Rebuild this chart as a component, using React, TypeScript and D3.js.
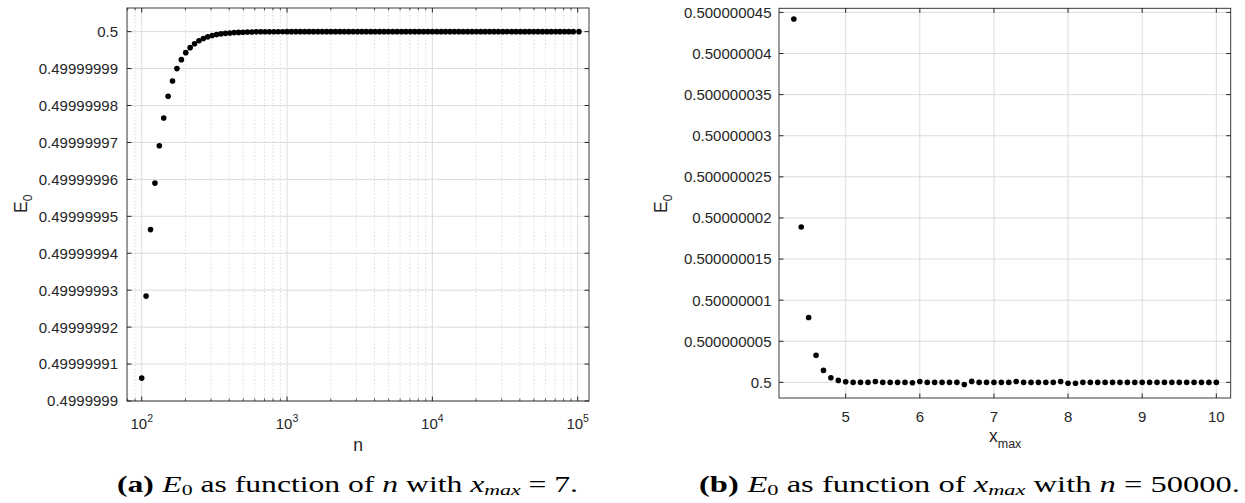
import React from "react";
import * as d3 from "d3";

// (a) E0 against n, x_max = 7
const nValues = [
  100, 107.2, 115.0, 123.3, 132.2, 141.7, 152.0, 163.0, 174.8, 187.4,
  200.9, 215.4, 231.0, 247.7, 265.6, 284.8, 305.4, 327.5, 351.1, 376.5,
  403.7, 432.9, 464.2, 497.7, 533.7, 572.3, 613.6, 658.0, 705.5, 756.5,
  811.1, 869.7, 932.6, 1000, 1072, 1150, 1233, 1322, 1417, 1520,
  1630, 1748, 1874, 2009, 2154, 2310, 2477, 2656, 2848, 3054,
  3275, 3511, 3765, 4037, 4329, 4642, 4977, 5337, 5722, 6136,
  6579, 7055, 7565, 8111, 8697, 9326, 10000, 10723, 11498, 12328,
  13219, 14175, 15199, 16298, 17475, 18738, 20092, 21544, 23101, 24771,
  26561, 28480, 30539, 32745, 35112, 37649, 40370, 43288, 46416, 49770,
  53367, 57224, 61359, 65793, 70548, 75646, 81113, 86975, 93260, 102000,
];
const e0VsN = [
  0.4999999062, 0.4999999284, 0.4999999464, 0.499999959, 0.4999999691,
  0.4999999766, 0.4999999825, 0.49999998665, 0.49999999, 0.49999999242,
  0.49999999431, 0.49999999567, 0.49999999673, 0.49999999753, 0.49999999814,
  0.49999999859, 0.49999999894, 0.4999999992, 0.4999999994, 0.49999999954,
  0.49999999965, 0.49999999974, 0.4999999998, 0.49999999985, 0.49999999989,
  0.49999999992, 0.49999999994, 0.49999999995, 0.49999999997, 0.49999999998,
  0.49999999998, 0.49999999999, 0.49999999999, 0.5, 0.5, 0.5, 0.5, 0.5, 0.5, 0.5,
  0.5, 0.5, 0.5, 0.5, 0.5, 0.5, 0.5, 0.5, 0.5, 0.5,
  0.5, 0.5, 0.5, 0.5, 0.5, 0.5, 0.5, 0.5, 0.5, 0.5,
  0.5, 0.5, 0.5, 0.5, 0.5, 0.5, 0.5, 0.5, 0.5, 0.5,
  0.5, 0.5, 0.5, 0.5, 0.5, 0.5, 0.5, 0.5, 0.5, 0.5,
  0.5, 0.5, 0.5, 0.5, 0.5, 0.5, 0.5, 0.5, 0.5, 0.5,
  0.5, 0.5, 0.5, 0.5, 0.5, 0.5, 0.5, 0.5, 0.5, 0.5,
];
const leftYTicks = [
  0.4999999, 0.49999991, 0.49999992, 0.49999993, 0.49999994, 0.49999995,
  0.49999996, 0.49999997, 0.49999998, 0.49999999, 0.5,
];
const leftYTickLabels = [
  "0.4999999", "0.49999991", "0.49999992", "0.49999993", "0.49999994", "0.49999995",
  "0.49999996", "0.49999997", "0.49999998", "0.49999999", "0.5",
];
const leftXTicks = [100, 1000, 10000, 100000];
const leftXExponents = ["2", "3", "4", "5"];

// (b) E0 against x_max, n = 50000
const xmaxValues = [
  4.3, 4.4, 4.5, 4.6, 4.7, 4.8, 4.9, 5.0, 5.1, 5.2, 5.3, 5.4, 5.5, 5.6, 5.7, 5.8, 5.9,
  6.0, 6.1, 6.2, 6.3, 6.4, 6.5, 6.6, 6.7, 6.8, 6.9, 7.0, 7.1, 7.2, 7.3, 7.4, 7.5, 7.6,
  7.7, 7.8, 7.9, 8.0, 8.1, 8.2, 8.3, 8.4, 8.5, 8.6, 8.7, 8.8, 8.9, 9.0, 9.1, 9.2, 9.3,
  9.4, 9.5, 9.6, 9.7, 9.8, 9.9, 10.0,
];
const e0VsXmax = [
  0.5000000442, 0.5000000189, 0.5000000079, 0.5000000033, 0.50000000146,
  0.50000000056, 0.50000000024, 0.50000000007, 0.5, 0.5, 0.5, 0.5000000001, 0.5,
  0.5, 0.5, 0.5, 0.49999999995, 0.5000000001, 0.5, 0.5, 0.5, 0.5, 0.5,
  0.49999999975, 0.50000000012, 0.5, 0.5, 0.5, 0.5, 0.5, 0.5000000001, 0.5, 0.5,
  0.5, 0.5, 0.5, 0.5000000001, 0.4999999999, 0.4999999999, 0.5, 0.5, 0.5, 0.5,
  0.5, 0.5, 0.5, 0.5, 0.5, 0.5, 0.5, 0.5, 0.5, 0.5, 0.5, 0.5, 0.5, 0.5, 0.5,
];
const rightYTicks = [
  0.5, 0.500000005, 0.50000001, 0.500000015, 0.50000002, 0.500000025,
  0.50000003, 0.500000035, 0.50000004, 0.500000045,
];
const rightYTickLabels = [
  "0.5", "0.500000005", "0.50000001", "0.500000015", "0.50000002", "0.500000025",
  "0.50000003", "0.500000035", "0.50000004", "0.500000045",
];
const rightXTicks = [5, 6, 7, 8, 9, 10];

const AXIS = "#262626";
const GRID = "#dcdcdc";
const FONT = "'Liberation Sans', Arial, sans-serif";

export default function App() {
  const W = 1245;
  const H = 503;
  const L = { x0: 127, x1: 589, y0: 8, y1: 401 };
  const R = { x0: 779, x1: 1230.7, y0: 8.3, y1: 398 };

  const xL = d3.scaleLog().domain([79.2, 119640]).range([L.x0, L.x1]);
  const yL = d3.scaleLinear().domain([0.4999999, 0.5000000064]).range([L.y1, L.y0]);
  const xR = d3.scaleLinear().domain([4.1, 10.194]).range([R.x0, R.x1]);
  const yR = d3.scaleLinear().domain([0.4999999981, 0.5000000455]).range([R.y1, R.y0]);

  const minorL = xL.ticks().filter((t) => !leftXTicks.includes(t));

  return (
    <svg
      width={W}
      height={H}
      style={{ position: "absolute", left: 0, top: 0, background: "#fff" }}
      fontFamily={FONT}
    >
      {/* ---------- left panel ---------- */}
      <g>
        {minorL.map((t) => (
          <line key={"mg" + t} x1={xL(t)} x2={xL(t)} y1={L.y0} y2={L.y1}
            stroke={GRID} strokeDasharray="1.5,2" />
        ))}
        {leftXTicks.map((t) => (
          <line key={"xg" + t} x1={xL(t)} x2={xL(t)} y1={L.y0} y2={L.y1} stroke={GRID} />
        ))}
        {leftYTicks.map((t) => (
          <line key={"yg" + t} x1={L.x0} x2={L.x1} y1={yL(t)} y2={yL(t)} stroke={GRID} />
        ))}
        <rect x={L.x0} y={L.y0} width={L.x1 - L.x0} height={L.y1 - L.y0}
          fill="none" stroke={AXIS} strokeWidth={0.9} />
        {minorL.map((t) => (
          <g key={"mt" + t} stroke={AXIS} strokeWidth={0.8}>
            <line x1={xL(t)} x2={xL(t)} y1={L.y1} y2={L.y1 - 2.5} />
            <line x1={xL(t)} x2={xL(t)} y1={L.y0} y2={L.y0 + 2.5} />
          </g>
        ))}
        {leftXTicks.map((t, i) => (
          <g key={"xt" + t}>
            <line x1={xL(t)} x2={xL(t)} y1={L.y1} y2={L.y1 - 4.5} stroke={AXIS} />
            <line x1={xL(t)} x2={xL(t)} y1={L.y0} y2={L.y0 + 4.5} stroke={AXIS} />
            <text x={xL(t)} y={428.5} textAnchor="middle" fontSize={15} fill={AXIS}>
              10<tspan dy={-7} fontSize={10.5}>{leftXExponents[i]}</tspan>
            </text>
          </g>
        ))}
        {leftYTicks.map((t, i) => (
          <g key={"yt" + t}>
            <line x1={L.x0} x2={L.x0 + 4.5} y1={yL(t)} y2={yL(t)} stroke={AXIS} />
            <line x1={L.x1} x2={L.x1 - 4.5} y1={yL(t)} y2={yL(t)} stroke={AXIS} />
            <text x={L.x0 - 9} y={yL(t)} dy="0.36em" textAnchor="end" fontSize={15} fill={AXIS}>
              {leftYTickLabels[i]}
            </text>
          </g>
        ))}
        {nValues.map((n, i) => (
          <circle key={"p" + i} cx={xL(n)} cy={yL(e0VsN[i])} r={2.8} fill="#000" />
        ))}
        <text x={358} y={451} textAnchor="middle" fontSize={17.5} fill={AXIS}>n</text>
        <text transform="translate(27,213) rotate(-90)" fontSize={17.5} fill={AXIS}>
          E<tspan dy={5} fontSize={12}>0</tspan>
        </text>
      </g>

      {/* ---------- right panel ---------- */}
      <g>
        {rightXTicks.map((t) => (
          <line key={"xg" + t} x1={xR(t)} x2={xR(t)} y1={R.y0} y2={R.y1} stroke={GRID} />
        ))}
        {rightYTicks.map((t) => (
          <line key={"yg" + t} x1={R.x0} x2={R.x1} y1={yR(t)} y2={yR(t)} stroke={GRID} />
        ))}
        <rect x={R.x0} y={R.y0} width={R.x1 - R.x0} height={R.y1 - R.y0}
          fill="none" stroke={AXIS} strokeWidth={0.9} />
        {rightXTicks.map((t) => (
          <g key={"xt" + t}>
            <line x1={xR(t)} x2={xR(t)} y1={R.y1} y2={R.y1 - 4.5} stroke={AXIS} />
            <line x1={xR(t)} x2={xR(t)} y1={R.y0} y2={R.y0 + 4.5} stroke={AXIS} />
            <text x={xR(t)} y={421.5} textAnchor="middle" fontSize={15} fill={AXIS}>{t}</text>
          </g>
        ))}
        {rightYTicks.map((t, i) => (
          <g key={"yt" + t}>
            <line x1={R.x0} x2={R.x0 + 4.5} y1={yR(t)} y2={yR(t)} stroke={AXIS} />
            <line x1={R.x1} x2={R.x1 - 4.5} y1={yR(t)} y2={yR(t)} stroke={AXIS} />
            <text x={R.x0 - 7.5} y={yR(t)} dy="0.36em" textAnchor="end" fontSize={15} fill={AXIS}>
              {rightYTickLabels[i]}
            </text>
          </g>
        ))}
        {xmaxValues.map((x, i) => (
          <circle key={"q" + i} cx={xR(x)} cy={yR(e0VsXmax[i])} r={2.8} fill="#000" />
        ))}
        <text x={989} y={442} fontSize={17.5} fill={AXIS}>
          x<tspan dy={6} fontSize={12.5}>max</tspan>
        </text>
        <text transform="translate(667,213) rotate(-90)" fontSize={17.5} fill={AXIS}>
          E<tspan dy={5} fontSize={12}>0</tspan>
        </text>
      </g>

      {/* ---------- captions ---------- */}
      <g fontFamily="Liberation Serif, serif" fill="#000">
        <text x={117} y={492} fontSize={22.5} textLength={461} lengthAdjust="spacingAndGlyphs">
          <tspan fontWeight="bold">(a)</tspan>
          <tspan fontStyle="italic" dx={6}>E</tspan>
          <tspan fontSize={15.5} dy={3}>0</tspan>
          <tspan dy={-3}> as function of </tspan>
          <tspan fontStyle="italic">n</tspan>
          <tspan> with </tspan>
          <tspan fontStyle="italic">x</tspan>
          <tspan fontStyle="italic" fontSize={15.5} dy={3}>max</tspan>
          <tspan dy={-3}> = 7.</tspan>
        </text>
        <text x={699} y={492} fontSize={22.5} textLength={541} lengthAdjust="spacingAndGlyphs">
          <tspan fontWeight="bold">(b)</tspan>
          <tspan fontStyle="italic" dx={6}>E</tspan>
          <tspan fontSize={15.5} dy={3}>0</tspan>
          <tspan dy={-3}> as function of </tspan>
          <tspan fontStyle="italic">x</tspan>
          <tspan fontStyle="italic" fontSize={15.5} dy={3}>max</tspan>
          <tspan dy={-3}> with </tspan>
          <tspan fontStyle="italic">n</tspan>
          <tspan> = 50000.</tspan>
        </text>
      </g>
    </svg>
  );
}
